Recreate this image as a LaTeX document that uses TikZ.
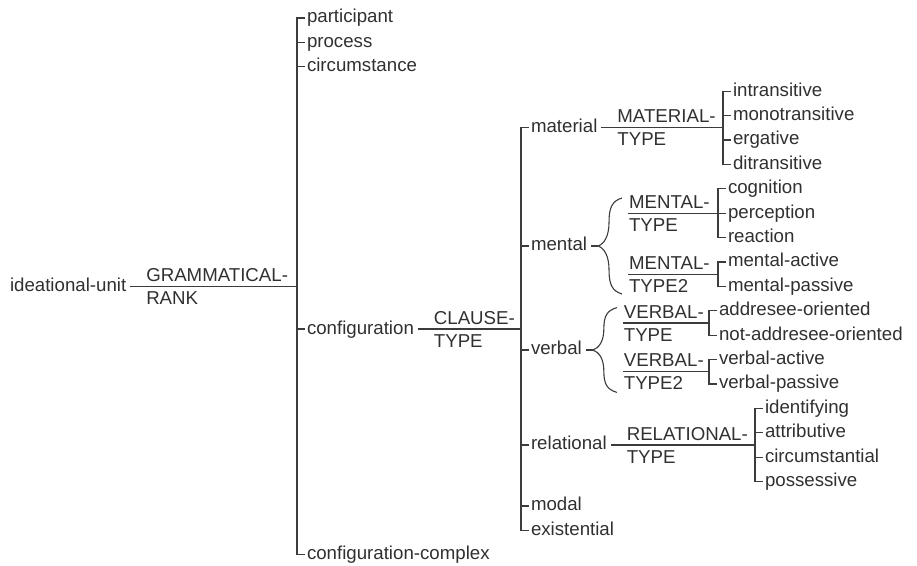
\documentclass[tikz,border=0pt]{standalone}
\usepackage{fontspec}
\setmainfont{Liberation Sans}
\usetikzlibrary{calc}
\definecolor{txtc}{HTML}{303030}
\definecolor{linec}{HTML}{3C3C3C}
\begin{document}
\fontsize{18.67}{22}\selectfont
\begin{tikzpicture}[x=1pt,y=-1pt,
  every node/.style={inner sep=0pt,outer sep=0pt,text=txtc,font=\fontsize{18.67}{22}\selectfont},
  lbl/.style={anchor=mid west},
  sysname/.style={anchor=base west},
  conn/.style={draw=linec,line width=1.3pt},
  pics/cbrace/.style={code={
    \draw[conn,line width=1.1pt] (24,-#1) .. controls (14,-#1+3) and (11,-0.8*#1) .. (11,-0.5*#1)
      .. controls (11,-0.2*#1) and (6,-2) .. (0,0)
      .. controls (6,2) and (11,0.2*#1) .. (11,0.5*#1)
      .. controls (11,0.8*#1) and (14,#1-3) .. (24,#1);
  }},
]
\useasboundingbox (0,0) rectangle (917,565);

% ---------- level 0 ----------
\node[lbl] (iu) at (10,286.4) {ideational-unit};
\node[sysname] (gr1) at ($(iu.mid east)+(20,-5)$) {GRAMMATICAL-};
\node[sysname] (gr2) at ($(iu.mid east)+(20,18)$) {RANK};
\coordinate (grj) at (297,286.4);
\draw[conn] ($(iu.mid east)+(4,0)$) -- (grj);

\node[lbl] (part) at (307,18) {participant};
\node[lbl] (proc) at (307,42.4) {process};
\node[lbl] (circ) at (307,66.8) {circumstance};
\node[lbl] (conf) at (307,329.1) {configuration};
\node[lbl] (cplx) at (307,554.8) {configuration-complex};
\draw[conn] ($(part.mid west)+(-2.5,0)$) -- ($(part.mid west)+(-10,0)$) -- ($(cplx.mid west)+(-10,0)$) -- ($(cplx.mid west)+(-2.5,0)$);
\foreach \n in {proc,circ,conf}
  \draw[conn] ($(\n.mid west)+(-2.5,0)$) -- ($(\n.mid west)+(-10,0)$);

% ---------- CLAUSE-TYPE ----------
\node[sysname] (ct1) at ($(conf.mid east)+(20,-5)$) {CLAUSE-};
\node[sysname] (ct2) at ($(conf.mid east)+(20,18)$) {TYPE};
\coordinate (ctj) at (521,329.1);
\draw[conn] ($(conf.mid east)+(4,0)$) -- (ctj);

\node[lbl] (mat) at (531,127.8) {material};
\node[lbl] (men) at (531,246) {mental};
\node[lbl] (verb) at (531,350) {verbal};
\node[lbl] (rel) at (531,445) {relational};
\node[lbl] (mod) at (531,506) {modal};
\node[lbl] (exi) at (531,530.4) {existential};
\draw[conn] ($(mat.mid west)+(-2.5,0)$) -- ($(mat.mid west)+(-10,0)$) -- ($(exi.mid west)+(-10,0)$) -- ($(exi.mid west)+(-2.5,0)$);
\foreach \n in {men,verb,rel,mod}
  \draw[conn] ($(\n.mid west)+(-2.5,0)$) -- ($(\n.mid west)+(-10,0)$);

% ---------- MATERIAL-TYPE ----------
\node[sysname] (mt1) at ($(mat.mid east)+(20,-5)$) {MATERIAL-};
\node[sysname] (mt2) at ($(mat.mid east)+(20,18)$) {TYPE};
\coordinate (matj) at (723,127.8);
\draw[conn] ($(mat.mid east)+(4,0)$) -- (matj);
\node[lbl] (intr) at (733,91.2) {intransitive};
\node[lbl] (mono) at (733,115.6) {monotransitive};
\node[lbl] (erg) at (733,140.0) {ergative};
\node[lbl] (ditr) at (733,164.4) {ditransitive};
\draw[conn] ($(intr.mid west)+(-2.5,0)$) -- ($(intr.mid west)+(-10,0)$) -- ($(ditr.mid west)+(-10,0)$) -- ($(ditr.mid west)+(-2.5,0)$);
\foreach \n in {mono,erg}
  \draw[conn] ($(\n.mid west)+(-2.5,0)$) -- ($(\n.mid west)+(-10,0)$);

% ---------- mental (brace) ----------
\coordinate (mentip) at ($(men.mid east)+(11,0)$);
\draw[conn] ($(men.mid east)+(4,0)$) -- (mentip);
\pic at (mentip) {cbrace=48};

\node[sysname] (mn1) at ($(men.mid east)+(42,-37.8)$) {MENTAL-};
\node[sysname] (mn2) at ($(men.mid east)+(42,-14.8)$) {TYPE};
\coordinate (mnj) at (718,213.2);
\draw[conn] ($(men.mid east)+(41,-32.8)$) -- (mnj);
\node[lbl] (cogn) at (728,188.8) {cognition};
\node[lbl] (perc) at (728,213.2) {perception};
\node[lbl] (reac) at (728,237.6) {reaction};
\draw[conn] ($(cogn.mid west)+(-2.5,0)$) -- ($(cogn.mid west)+(-10,0)$) -- ($(reac.mid west)+(-10,0)$) -- ($(reac.mid west)+(-2.5,0)$);
\draw[conn] ($(perc.mid west)+(-2.5,0)$) -- ($(perc.mid west)+(-10,0)$);

\node[sysname] (mm1) at ($(men.mid east)+(42,23.2)$) {MENTAL-};
\node[sysname] (mm2) at ($(men.mid east)+(42,46.2)$) {TYPE2};
\coordinate (mmj) at (718,274.2);
\draw[conn] ($(men.mid east)+(41,28.2)$) -- (mmj);
\node[lbl] (mact) at (728,262.0) {mental-active};
\node[lbl] (mpas) at (728,286.4) {mental-passive};
\draw[conn] ($(mact.mid west)+(-2.5,0)$) -- ($(mact.mid west)+(-10,0)$) -- ($(mpas.mid west)+(-10,0)$) -- ($(mpas.mid west)+(-2.5,0)$);

% ---------- verbal (brace) ----------
\coordinate (vertip) at ($(verb.mid east)+(11,0)$);
\draw[conn] ($(verb.mid east)+(4,0)$) -- (vertip);
\pic at (vertip) {cbrace=42.4};

\node[sysname] (vt1) at ($(verb.mid east)+(42,-32)$) {VERBAL-};
\node[sysname] (vt2) at ($(verb.mid east)+(42,-9)$) {TYPE};
\coordinate (vtj) at (709,323);
\draw[conn] ($(verb.mid east)+(41,-27)$) -- (vtj);
\node[lbl] (addr) at (719,310.8) {addresee-oriented};
\node[lbl] (naddr) at (719,335.2) {not-addresee-oriented};
\draw[conn] ($(addr.mid west)+(-2.5,0)$) -- ($(addr.mid west)+(-10,0)$) -- ($(naddr.mid west)+(-10,0)$) -- ($(naddr.mid west)+(-2.5,0)$);

\node[sysname] (vv1) at ($(verb.mid east)+(42,16.8)$) {VERBAL-};
\node[sysname] (vv2) at ($(verb.mid east)+(42,39.8)$) {TYPE2};
\coordinate (vvj) at (709,371.8);
\draw[conn] ($(verb.mid east)+(41,21.8)$) -- (vvj);
\node[lbl] (vact) at (719,359.6) {verbal-active};
\node[lbl] (vpas) at (719,384.0) {verbal-passive};
\draw[conn] ($(vact.mid west)+(-2.5,0)$) -- ($(vact.mid west)+(-10,0)$) -- ($(vpas.mid west)+(-10,0)$) -- ($(vpas.mid west)+(-2.5,0)$);

% ---------- RELATIONAL-TYPE ----------
\node[sysname] (rt1) at ($(rel.mid east)+(20,-5)$) {RELATIONAL-};
\node[sysname] (rt2) at ($(rel.mid east)+(20,18)$) {TYPE};
\coordinate (relj) at (755,445);
\draw[conn] ($(rel.mid east)+(4,0)$) -- (relj);
\node[lbl] (iden) at (765,408.4) {identifying};
\node[lbl] (attr) at (765,432.8) {attributive};
\node[lbl] (ccir) at (765,457.2) {circumstantial};
\node[lbl] (poss) at (765,481.6) {possessive};
\draw[conn] ($(iden.mid west)+(-2.5,0)$) -- ($(iden.mid west)+(-10,0)$) -- ($(poss.mid west)+(-10,0)$) -- ($(poss.mid west)+(-2.5,0)$);
\foreach \n in {attr,ccir}
  \draw[conn] ($(\n.mid west)+(-2.5,0)$) -- ($(\n.mid west)+(-10,0)$);
\end{tikzpicture}
\end{document}
